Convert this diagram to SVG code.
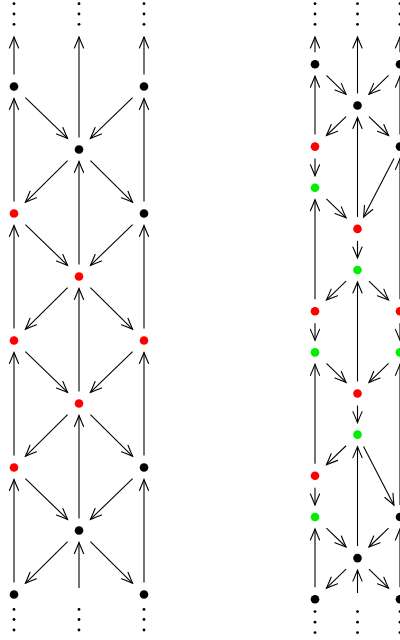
<svg xmlns="http://www.w3.org/2000/svg" width="400" height="640" viewBox="0 0 400 640">
<style>
.e{fill:none;stroke:#000;stroke-width:1.1;marker-end:url(#ah)}
.k{fill:#000}.r{fill:#ff0000}.g{fill:#00ee00}
.d{fill:#000}
</style>
<defs>
<marker id="ah" markerUnits="userSpaceOnUse" orient="auto" markerWidth="14" markerHeight="12" viewBox="-12 -6 14 12" refX="0" refY="0" overflow="visible">
<path d="M-11,-4.6 C-6.5,-2.6 -2.5,-1 0,0 C-2.5,1 -6.5,2.6 -11,4.6" fill="none" stroke="#000" stroke-width="1.1" stroke-linecap="round"/>
</marker>
</defs>
<rect width="400" height="640" fill="#fff"/>
<g id="connectors">
<!-- left diagram verticals -->
<path class="e" d="M14,582.5V479.5"/><path class="e" d="M14,455.5V352.5"/><path class="e" d="M14,328.5V225.5"/><path class="e" d="M14,201.5V98.5"/><path class="e" d="M14,74.5V37"/>
<path class="e" d="M144,582.5V479.5"/><path class="e" d="M144,455.5V352.5"/><path class="e" d="M144,328.5V225.5"/><path class="e" d="M144,201.5V98.5"/><path class="e" d="M144,74.5V37"/>
<path class="e" d="M79,588V542.5"/><path class="e" d="M79,518.5V415.5"/><path class="e" d="M79,391.5V288.5"/><path class="e" d="M79,264.5V161.5"/><path class="e" d="M79,137.5V37"/>
<!-- left diagram diagonals -->
<path class="e" d="M25.4,97.6L67.6,138.4"/><path class="e" d="M132.6,97.6L90.4,138.4"/>
<path class="e" d="M25.4,224.6L67.6,265.4"/><path class="e" d="M132.6,224.6L90.4,265.4"/>
<path class="e" d="M25.4,351.6L67.6,392.4"/><path class="e" d="M132.6,351.6L90.4,392.4"/>
<path class="e" d="M25.4,478.6L67.6,519.4"/><path class="e" d="M132.6,478.6L90.4,519.4"/>
<path class="e" d="M67.6,160.7L25.4,202.3"/><path class="e" d="M90.4,160.7L132.6,202.3"/>
<path class="e" d="M67.6,287.7L25.4,329.3"/><path class="e" d="M90.4,287.7L132.6,329.3"/>
<path class="e" d="M67.6,414.7L25.4,456.3"/><path class="e" d="M90.4,414.7L132.6,456.3"/>
<path class="e" d="M67.6,541.7L25.4,583.3"/><path class="e" d="M90.4,541.7L132.6,583.3"/>
<!-- right diagram verticals -->
<path class="e" d="M315,52.3V37"/><path class="e" d="M315,134.6V76.3"/><path class="e" d="M315,158.6V175.75"/><path class="e" d="M315,299.2V199.75"/><path class="e" d="M315,323.2V340.35"/><path class="e" d="M315,463.8V364.35"/><path class="e" d="M315,487.8V504.95"/><path class="e" d="M315,587.25V528.95"/>
<path class="e" d="M357.5,93.45V37"/><path class="e" d="M357.5,216.9V117.45"/><path class="e" d="M357.5,240.9V258.05"/><path class="e" d="M357.5,381.5V282.05"/><path class="e" d="M357.5,405.5V422.65"/><path class="e" d="M357.5,546.1V446.65"/><path class="e" d="M357.5,593V570.1"/>
<path class="e" d="M400,52.3V37"/><path class="e" d="M400,134.6V76.3"/><path class="e" d="M400,299.2V158.6"/><path class="e" d="M400,323.2V340.35"/><path class="e" d="M400,504.95V364.35"/><path class="e" d="M400,587.25V528.95"/>
<!-- right diagram diagonals -->
<path class="e" d="M326.43,75.42L346.07,94.33"/><path class="e" d="M388.57,75.42L368.93,94.33"/>
<path class="e" d="M346.07,116.57L326.43,135.48"/><path class="e" d="M368.93,116.57L388.57,135.48"/>
<path class="e" d="M326.43,198.87L346.07,217.78"/><path class="e" d="M393.95,158.38L363.55,217.12"/>
<path class="e" d="M346.07,281.17L326.43,300.08"/><path class="e" d="M368.93,281.17L388.57,300.08"/>
<path class="e" d="M326.43,363.47L346.07,382.38"/><path class="e" d="M388.57,363.47L368.93,382.38"/>
<path class="e" d="M346.07,445.77L326.43,464.68"/><path class="e" d="M363.55,446.43L393.95,505.17"/>
<path class="e" d="M326.43,528.07L346.07,546.98"/><path class="e" d="M388.57,528.07L368.93,546.98"/>
<path class="e" d="M346.07,569.22L326.43,588.13"/><path class="e" d="M368.93,569.22L388.57,588.13"/>
</g>
<!-- ellipsis dots -->
<g id="dots-top-left"><circle class="d" cx="14" cy="3.7" r="1.4"/><circle class="d" cx="14" cy="14" r="1.4"/><circle class="d" cx="14" cy="24.3" r="1.4"/><circle class="d" cx="79" cy="3.7" r="1.4"/><circle class="d" cx="79" cy="14" r="1.4"/><circle class="d" cx="79" cy="24.3" r="1.4"/><circle class="d" cx="144" cy="3.7" r="1.4"/><circle class="d" cx="144" cy="14" r="1.4"/><circle class="d" cx="144" cy="24.3" r="1.4"/></g>
<g id="dots-bottom-left"><circle class="d" cx="14" cy="609.4" r="1.4"/><circle class="d" cx="14" cy="619.5" r="1.4"/><circle class="d" cx="14" cy="630" r="1.4"/><circle class="d" cx="79" cy="609.4" r="1.4"/><circle class="d" cx="79" cy="619.5" r="1.4"/><circle class="d" cx="79" cy="630" r="1.4"/><circle class="d" cx="144" cy="609.4" r="1.4"/><circle class="d" cx="144" cy="619.5" r="1.4"/><circle class="d" cx="144" cy="630" r="1.4"/></g>
<g id="dots-top-right"><circle class="d" cx="315" cy="3.7" r="1.4"/><circle class="d" cx="315" cy="14" r="1.4"/><circle class="d" cx="315" cy="24.3" r="1.4"/><circle class="d" cx="357.5" cy="3.7" r="1.4"/><circle class="d" cx="357.5" cy="14" r="1.4"/><circle class="d" cx="357.5" cy="24.3" r="1.4"/><circle class="d" cx="400" cy="3.7" r="1.4"/><circle class="d" cx="400" cy="14" r="1.4"/><circle class="d" cx="400" cy="24.3" r="1.4"/></g>
<g id="dots-bottom-right"><circle class="d" cx="315" cy="611.6" r="1.4"/><circle class="d" cx="315" cy="622.2" r="1.4"/><circle class="d" cx="315" cy="632.6" r="1.4"/><circle class="d" cx="357.5" cy="611.6" r="1.4"/><circle class="d" cx="357.5" cy="622.2" r="1.4"/><circle class="d" cx="357.5" cy="632.6" r="1.4"/><circle class="d" cx="400" cy="611.6" r="1.4"/><circle class="d" cx="400" cy="622.2" r="1.4"/><circle class="d" cx="400" cy="632.6" r="1.4"/></g>
<!-- left diagram nodes -->
<g id="a-L0"><circle class="k" cx="14" cy="86.5" r="4.3"/></g>
<g id="a-L1"><circle class="r" cx="14" cy="213.5" r="4.3"/></g>
<g id="a-L2"><circle class="r" cx="14" cy="340.5" r="4.3"/></g>
<g id="a-L3"><circle class="r" cx="14" cy="467.5" r="4.3"/></g>
<g id="a-L4"><circle class="k" cx="14" cy="594.5" r="4.3"/></g>
<g id="a-M0"><circle class="k" cx="79" cy="149.5" r="4.3"/></g>
<g id="a-M1"><circle class="r" cx="79" cy="276.5" r="4.3"/></g>
<g id="a-M2"><circle class="r" cx="79" cy="403.5" r="4.3"/></g>
<g id="a-M3"><circle class="k" cx="79" cy="530.5" r="4.3"/></g>
<g id="a-R0"><circle class="k" cx="144" cy="86.5" r="4.3"/></g>
<g id="a-R1"><circle class="k" cx="144" cy="213.5" r="4.3"/></g>
<g id="a-R2"><circle class="r" cx="144" cy="340.5" r="4.3"/></g>
<g id="a-R3"><circle class="k" cx="144" cy="467.5" r="4.3"/></g>
<g id="a-R4"><circle class="k" cx="144" cy="594.5" r="4.3"/></g>
<!-- right diagram nodes -->
<g id="b-L0"><circle class="k" cx="315" cy="64.3" r="4.3"/></g>
<g id="b-L2"><circle class="r" cx="315" cy="146.6" r="4.3"/></g>
<g id="b-L3"><circle class="g" cx="315" cy="187.75" r="4.3"/></g>
<g id="b-L6"><circle class="r" cx="315" cy="311.2" r="4.3"/></g>
<g id="b-L7"><circle class="g" cx="315" cy="352.35" r="4.3"/></g>
<g id="b-L10"><circle class="r" cx="315" cy="475.8" r="4.3"/></g>
<g id="b-L11"><circle class="g" cx="315" cy="516.95" r="4.3"/></g>
<g id="b-L13"><circle class="k" cx="315" cy="599.25" r="4.3"/></g>
<g id="b-M1"><circle class="k" cx="357.5" cy="105.45" r="4.3"/></g>
<g id="b-M4"><circle class="r" cx="357.5" cy="228.9" r="4.3"/></g>
<g id="b-M5"><circle class="g" cx="357.5" cy="270.05" r="4.3"/></g>
<g id="b-M8"><circle class="r" cx="357.5" cy="393.5" r="4.3"/></g>
<g id="b-M9"><circle class="g" cx="357.5" cy="434.65" r="4.3"/></g>
<g id="b-M12"><circle class="k" cx="357.5" cy="558.1" r="4.3"/></g>
<g id="b-R0"><circle class="k" cx="400" cy="64.3" r="4.3"/></g>
<g id="b-R2"><circle class="k" cx="400" cy="146.6" r="4.3"/></g>
<g id="b-R6"><circle class="r" cx="400" cy="311.2" r="4.3"/></g>
<g id="b-R7"><circle class="g" cx="400" cy="352.35" r="4.3"/></g>
<g id="b-R11"><circle class="k" cx="400" cy="516.95" r="4.3"/></g>
<g id="b-R13"><circle class="k" cx="400" cy="599.25" r="4.3"/></g>
</svg>
